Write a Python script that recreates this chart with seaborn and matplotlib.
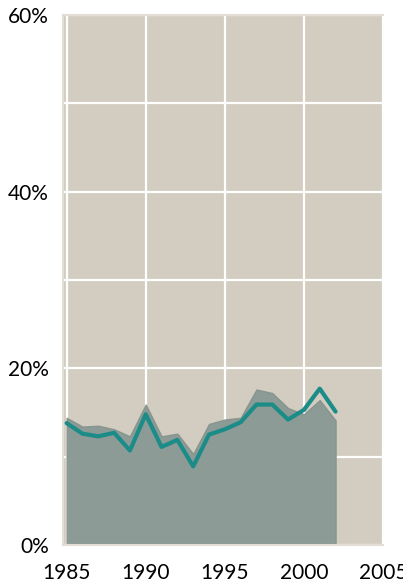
import matplotlib
matplotlib.use("Agg")
import matplotlib.pyplot as plt
import seaborn as sns
import pandas as pd

# ========== Data ========== #
years = list(range(1985, 2003))
area_share = [14.4, 13.4, 13.5, 13.1, 12.3, 15.9, 12.3, 12.6, 10.3, 13.7,
              14.2, 14.4, 17.6, 17.2, 15.5, 14.8, 16.4, 14.1]
line_share = [13.8, 12.6, 12.3, 12.7, 10.7, 14.8, 11.1, 11.9, 8.9, 12.5,
              13.1, 13.9, 15.9, 15.9, 14.2, 15.3, 17.7, 15.1]
y_ticks = [0, 20, 40, 60]
y_labels = ["0%", "20%", "40%", "60%"]
x_ticks = [1985, 1990, 1995, 2000, 2005]

df = pd.DataFrame({"year": years, "area": area_share, "line": line_share})

# ========== Style ========== #
sns.set_style("white")
plt.rcParams["font.family"] = ["Lato", "DejaVu Sans"]

bg = "#d3ccc0"
fig = plt.figure(figsize=(4.03, 5.86), dpi=100)
ax = fig.add_axes([63 / 403, 41 / 586, 320 / 403, 530 / 586])
ax.set_facecolor(bg)

# ========== Area + line ========== #
ax.fill_between(df["year"], 0, df["area"], color="#8c9b95", zorder=2,
                linewidth=1, edgecolor="#87958f")
sns.lineplot(data=df, x="year", y="line", ax=ax, color="#1b8c88",
             linewidth=3, zorder=3)

# ========== Axes ========== #
ax.set_xlim(1984.77, 2005)
ax.set_ylim(0, 60)
ax.set_xticks(x_ticks)
ax.set_xticklabels([str(x) for x in x_ticks])
ax.set_yticks(y_ticks)
ax.set_yticklabels(y_labels)
ax.set_yticks([10, 30, 50], minor=True)
ax.grid(True, which="both", color="white", linewidth=1.6, zorder=1)
ax.set_axisbelow(True)
ax.tick_params(axis="both", which="both", length=0, labelsize=15, colors="black")
ax.tick_params(axis="x", pad=13)
ax.tick_params(axis="y", pad=10)
ax.set_xlabel("")
ax.set_ylabel("")

for side in ["left", "bottom", "top"]:
    ax.spines[side].set_visible(True)
    ax.spines[side].set_color("#e4dfd6")
    ax.spines[side].set_linewidth(1.5)
    ax.spines[side].set_zorder(4)
ax.spines["right"].set_visible(False)

fig.savefig("out.png", dpi=100, facecolor="white")
